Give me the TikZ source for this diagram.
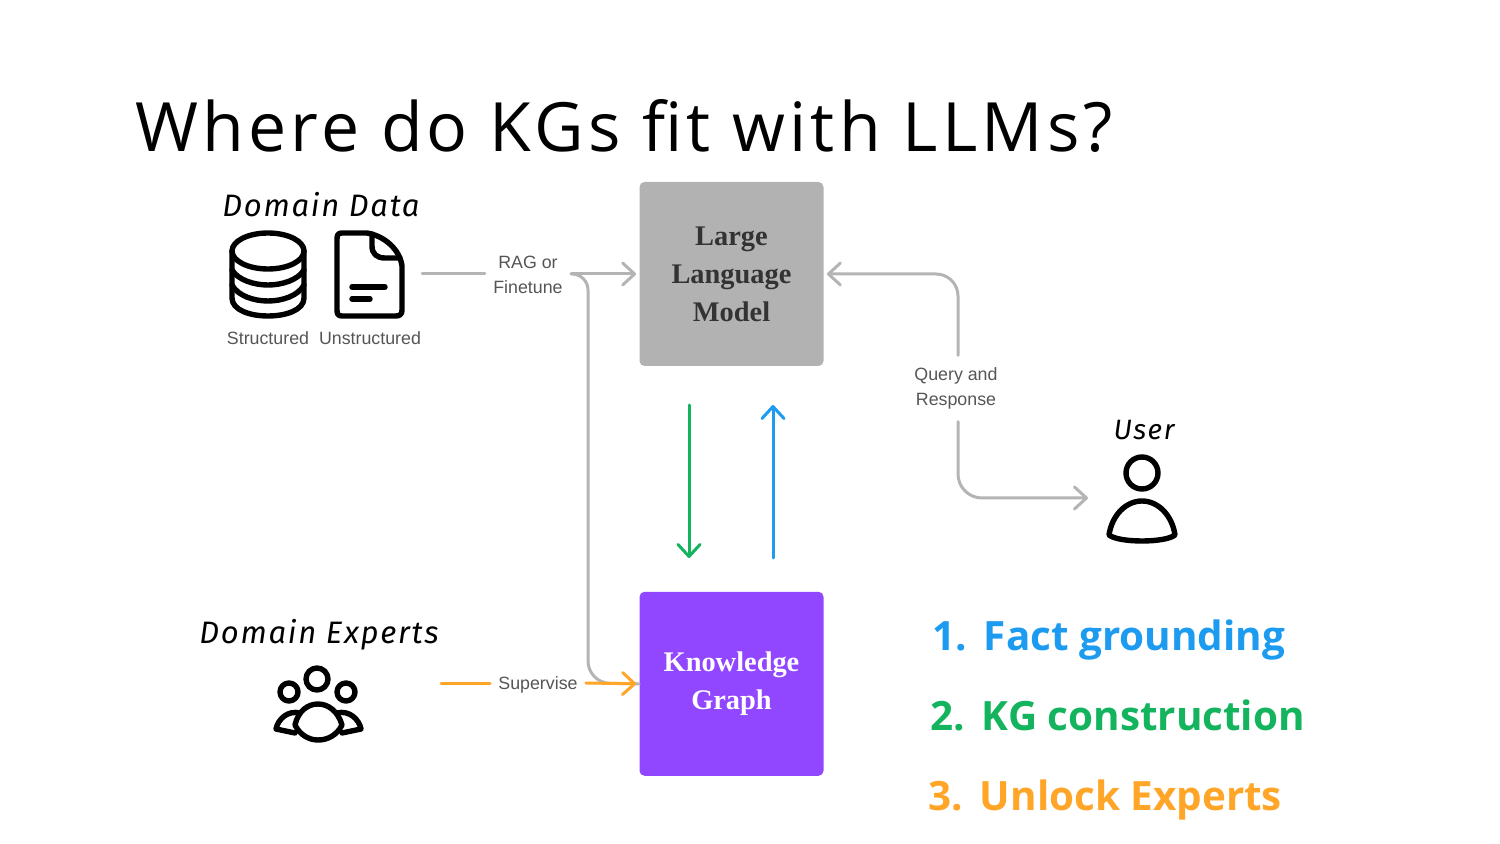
\documentclass[tikz,border=0pt]{standalone}
\usepackage{fontspec}
\setmainfont{Liberation Sans}
\newfontfamily\titlefont[LetterSpace=6.1]{Open Sans}
\newfontfamily\handfont[LetterSpace=5.5]{Fira Sans}
\newfontfamily\boxfont{Liberation Serif}
\newfontfamily\listfont{Open Sans}
\usetikzlibrary{arrows.meta,positioning}
\definecolor{flowgray}{HTML}{B4B4B4}
\definecolor{llmgray}{HTML}{B2B2B2}
\definecolor{kgpurple}{HTML}{9146FF}
\definecolor{factblue}{HTML}{1D9BF0}
\definecolor{kggreen}{HTML}{14B45F}
\definecolor{expertorange}{HTML}{FFA629}
\definecolor{tagtext}{HTML}{555555}
\begin{document}
\begin{tikzpicture}[x=0.5pt,y=-0.5pt, node distance=112.5pt, >={Straight Barb[length=6pt,width=11pt,round]},
  box/.style={rounded corners=2.5pt,minimum size=92pt,align=center,inner sep=0pt,font=\boxfont\fontsize{14.2}{19}\selectfont\bfseries},
  flow/.style={line width=1.5pt,line cap=round},
  icon/.style={line width=2.7pt,line cap=round,line join=round},
  tag/.style={font=\fontsize{8.9}{12.5}\selectfont,text=tagtext,align=center,inner xsep=4pt,inner ysep=4pt},
  hand/.style={font=\handfont\itshape\fontsize{15.5}{18}\selectfont,inner sep=0pt},
  goal/.style={anchor=base west,inner sep=0pt,font=\listfont\bfseries\fontsize{20.2}{24}\selectfont}]
\useasboundingbox (0,0) rectangle (1500,844);
\node[anchor=west,inner sep=0pt,font=\titlefont\fontsize{34}{40}\selectfont] (title) at (135,126) {Where do KGs fit with LLMs?};
% boxes
\node[box,fill=llmgray,text=black!80] (llm) at (731.5,274) {Large\\Language\\Model};
\node[box,fill=kgpurple,text=white,below=of llm] (kg) {Knowledge\\Graph};
% labels on the connectors
\node[hand] (datalabel) at (321,205) {Domain Data};
\node[tag,inner sep=0pt] (structured) at (268,338) {Structured};
\node[tag,inner sep=0pt] (unstructured) at (370,338) {Unstructured};
\node[tag] (rag) at (528,275) {RAG or\\Finetune};
\node[tag] (supervise) at (538,685) {Supervise};
\node[tag,inner ysep=6pt] (query) at (956,388.5) {Query and\\Response};
\node[hand] (expertlabel) at (319,635) {Domain Experts};
\node[hand,font=\handfont\itshape\fontsize{14}{18}\selectfont] (userlabel) at (1144,430) {User};
% connector ends
\coordinate (dataout) at (422,274);
\coordinate (expertout) at (441,683);
\coordinate (userin) at (1088,498);
\coordinate (greentop) at (689,405);
\coordinate (greenbot) at (689,558);
\coordinate (bluetop) at (773,405);
\coordinate (bluebot) at (773,558);
% connectors
\draw[flow,flowgray] (dataout) -- (rag.west |- dataout);
\draw[flow,flowgray] (rag.east |- dataout) [rounded corners=8pt] -- (588,274) [rounded corners=11pt] -- (588,683) -- (kg.west);
\draw[flow,flowgray,->] (rag.east |- dataout) -- ([xshift=-1.5pt]llm.west);
\draw[flow,flowgray,->,rounded corners=11pt] (query.north -| 958,0) -- (958,274) -- ([xshift=1.5pt]llm.east);
\draw[flow,flowgray,->,rounded corners=12pt] (query.south -| 958,0) -- (958,498) -- (userin);
\draw[flow,expertorange] (expertout) -- (supervise.west |- expertout);
\draw[flow,expertorange,->] (supervise.east |- expertout) -- ([xshift=-1.5pt]kg.west);
\draw[flow,kggreen,->] (greentop) -- (greenbot);
\draw[flow,factblue,->] (bluebot) -- (bluetop);
% database
\draw[icon] (268,251) ellipse[x radius=36,y radius=18];
\draw[icon] (232,251) -- (232,298) .. controls (232,310) and (250,316) .. (268,316) .. controls (286,316) and (304,310) .. (304,298) -- (304,251);
\draw[icon] (232,270) .. controls (238,280) and (254,285) .. (268,285) .. controls (282,285) and (298,280) .. (304,270);
\draw[icon] (232,285) .. controls (238,296) and (254,301) .. (268,301) .. controls (282,301) and (298,296) .. (304,285);
% document
\draw[icon] (342,233) -- (367,233) .. controls (385,236) and (400,250) .. (402,266) -- (402,310) .. controls (402,314) and (400,316) .. (396,316) -- (342,316) .. controls (338,316) and (337,314) .. (337,310) -- (337,239) .. controls (337,235) and (338,233) .. (342,233) -- cycle;
\draw[icon] (372,234) -- (372,246) .. controls (372,254) and (377,258) .. (385,258) -- (400,258);
\draw[icon] (352,287) -- (385,287) (352,299) -- (370,299);
% experts
\draw[icon] (317,679) circle[radius=11] (289,692) circle[radius=9] (346,692) circle[radius=9];
\draw[icon] (295,725) .. controls (298,711) and (308,704) .. (318,704) .. controls (328,704) and (338,711) .. (342,725) .. controls (337,735) and (328,740) .. (318,740) .. controls (309,740) and (300,735) .. (295,725) -- cycle;
\draw[icon] (300,713) .. controls (288,710) and (278,719) .. (276,729) -- (295,733);
\draw[icon] (337,713) .. controls (349,710) and (359,719) .. (361,729) -- (342,733);
% user
\draw[icon] (1142,473) circle[radius=16];
\draw[icon] (1109,535) .. controls (1112,515) and (1126,501) .. (1142,501) .. controls (1158,501) and (1172,515) .. (1175,535) .. controls (1165,543) and (1119,543) .. (1109,535) -- cycle;
% list
\node[goal,factblue] (factitem) at (932,650) {1.\hspace{8.5pt}Fact grounding};
\node[goal,kggreen] (kgitem) at (930,730) {2.\hspace{8.5pt}KG construction};
\node[goal,expertorange] (unlockitem) at (928,810) {3.\hspace{8.5pt}Unlock Experts};
\end{tikzpicture}
\end{document}
